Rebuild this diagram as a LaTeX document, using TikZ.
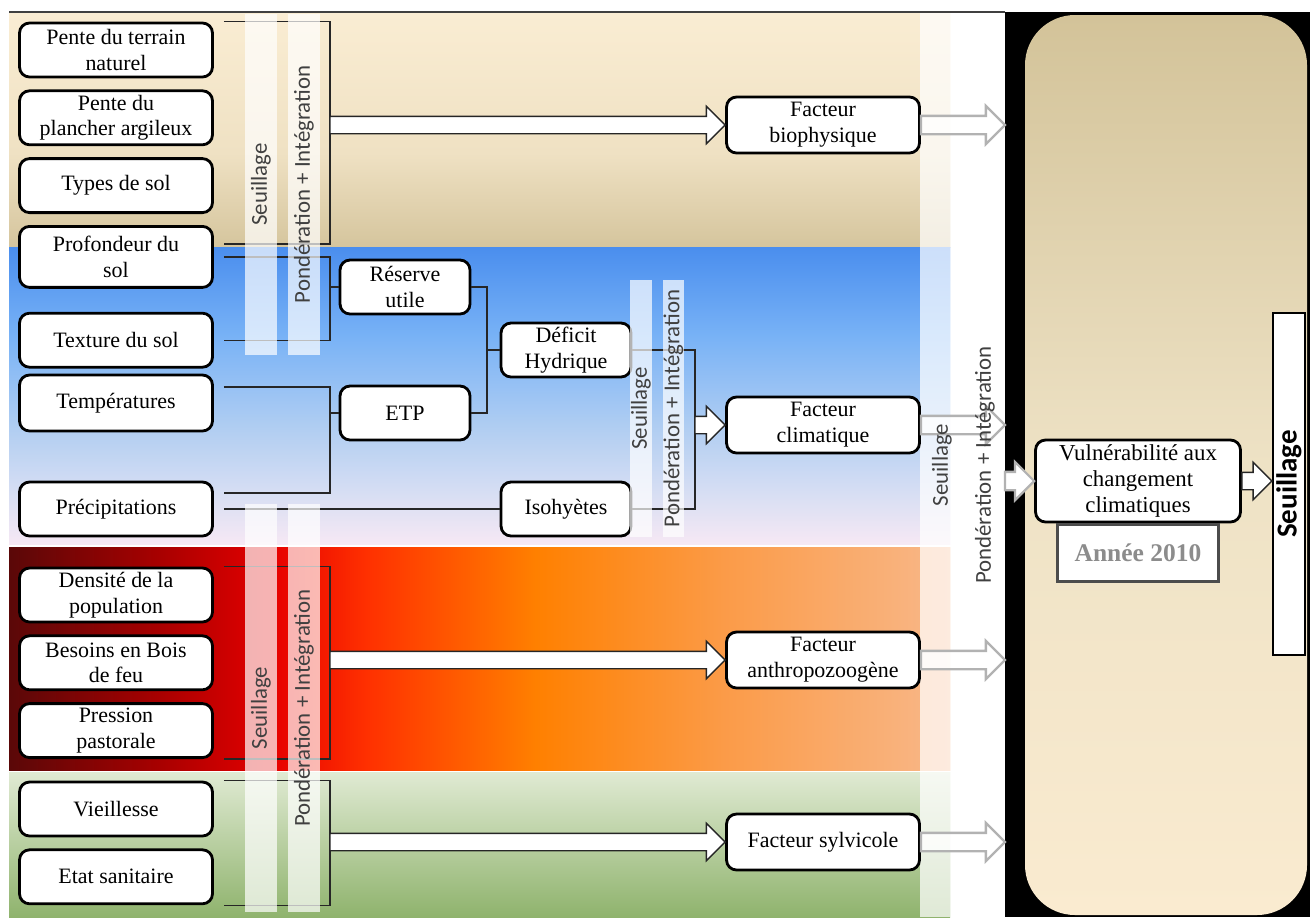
\documentclass[tikz,border=0pt]{standalone}
\usepackage{fontspec}
\setmainfont{Liberation Serif}
\newfontfamily\calib{Carlito}
\usetikzlibrary{positioning,calc,shapes.arrows}

\definecolor{beigeT}{HTML}{FAEDD3}
\definecolor{beigeM}{HTML}{EFE1C3}
\definecolor{beigeB}{HTML}{D5C59D}
\definecolor{blueT}{HTML}{4A8EEE}
\definecolor{blueM}{HTML}{78B2F6}
\definecolor{blueL}{HTML}{AFCDF2}
\definecolor{blueP}{HTML}{D9DFF3}
\definecolor{blueB}{HTML}{F6E8F4}
\definecolor{redA}{HTML}{5A0808}
\definecolor{redB}{HTML}{A80000}
\definecolor{redC}{HTML}{E60000}
\definecolor{redD}{HTML}{FF3000}
\definecolor{redE}{HTML}{FF8000}
\definecolor{redF}{HTML}{FB9B48}
\definecolor{redG}{HTML}{F8B88A}
\definecolor{greenT}{HTML}{E0EAD3}
\definecolor{greenB}{HTML}{8FB36D}
\definecolor{panelT}{HTML}{D3C399}
\definecolor{panelM}{HTML}{EEE2C5}
\definecolor{panelB}{HTML}{FAEBD0}

% bandes de fond (25bp..75bp = la zone remplie)
\pgfdeclareverticalshading{beigeband}{100bp}{color(0bp)=(beigeB); color(25bp)=(beigeB); color(45bp)=(beigeM); color(75bp)=(beigeT); color(100bp)=(beigeT)}
\pgfdeclareverticalshading{blueband}{100bp}{color(0bp)=(blueB); color(25bp)=(blueB); color(33bp)=(blueP); color(45bp)=(blueL); color(60bp)=(blueM); color(75bp)=(blueT); color(100bp)=(blueT)}
\pgfdeclarehorizontalshading{redband}{100bp}{color(0bp)=(redA); color(25bp)=(redA); color(33bp)=(redB); color(39bp)=(redC); color(44bp)=(redD); color(53bp)=(redE); color(63bp)=(redF); color(75bp)=(redG); color(100bp)=(redG)}
\pgfdeclareverticalshading{greenband}{100bp}{color(0bp)=(greenB); color(25bp)=(greenB); color(75bp)=(greenT); color(100bp)=(greenT)}
\pgfdeclareverticalshading{panel}{100bp}{color(0bp)=(panelB); color(25bp)=(panelB); color(50bp)=(panelM); color(75bp)=(panelT); color(100bp)=(panelT)}

% fleche pleine entre deux points (horizontale)
\newcommand\blockarrow[3][]{%
  \path let \p1=($(#3)-(#2)$), \n1={veclen(\x1,\y1)} in
    node[barrow,#1,minimum height=\n1,anchor=tail] at (#2) {};}

\begin{document}
\begin{tikzpicture}
    [x=0.02cm,y=-0.02cm,node distance=0.22cm,
    box/.style={draw,line width=1.6pt,rounded corners=0.2cm,fill=white,align=center,inner sep=0pt,font=\fontsize{12.5}{14.7}\selectfont},
    inbox/.style={box,minimum width=3.86cm,minimum height=1.08cm},
    midbox/.style={box,minimum width=2.6cm,minimum height=1.08cm},
    factbox/.style={box,minimum width=3.86cm,minimum height=1.12cm},
    link/.style={draw=black!85,line width=0.7pt},
    strip/.style={fill=white,fill opacity=0.7,text opacity=1,rotate=90,inner sep=0pt,minimum height=0.64cm,text=black!75,font=\calib\fontsize{13}{15}\selectfont},
    striptext/.style={rotate=90,inner sep=0pt,text=black!75,font=\calib\fontsize{13}{15}\selectfont},
    barrow/.style={single arrow,draw=black!85,line width=0.8pt,fill=white,text height=0.16cm,text depth=0.16cm,minimum width=0.72cm,single arrow head extend=0.2cm,single arrow head indent=0pt,inner sep=0pt,outer sep=0pt},
    grayarrow/.style={draw=black!30,line width=1.3pt,fill opacity=0.8}]
    \path[use as bounding box] (0,0) rectangle (1310,917);
    % fonds
    \shade[shading=beigeband] (9,12) rectangle (950,247);
    \shade[shading=blueband] (9,247) rectangle (950,544);
    \shade[shading=redband] (9,547) rectangle (950,770);
    \shade[shading=greenband] (9,772) rectangle (950,917);
    \fill[white,opacity=0.72] (920,12) rectangle (950,917);
    \fill[black] (1005,12) rectangle (1310,917);
    \shade[shading=panel,rounded corners=1cm] (1025,15) rectangle (1307,915);
    \draw[black!75,line width=0.8pt] (9,12) -- (1005,12);

    % colonne des donnees
    \node[inbox] (pente) at (116,50) {Pente du terrain\\naturel};
    \node[inbox] (plancher) [below=of pente] {Pente du\\plancher argileux};
    \node[inbox] (typesol) [below=of plancher] {Types de sol};
    \node[inbox,minimum height=1.22cm] (profsol) [below=of typesol] {Profondeur du\\sol};
    \node[inbox] (texsol) [below=0.46cm of profsol] {Texture du sol};
    \node[inbox,minimum height=1.12cm] (temp) at (116,403) {Températures};
    \node[inbox] (precip) at (116,509) {Précipitations};
    \node[inbox] (densite) at (116,595) {Densité de la\\population};
    \node[inbox] (bois) [below=of densite] {Besoins en Bois\\de feu};
    \node[inbox] (pression) [below=of bois] {Pression\\pastorale};
    \node[inbox] (vieil) at (116,809) {Vieillesse};
    \node[inbox] (etat) [below=of vieil] {Etat sanitaire};

    % indicateurs intermediaires
    \node[midbox] (ru) at (405,287) {Réserve\\utile};
    \node[midbox] (etp) at (405,413) {ETP};
    \node[midbox] (deficit) at (566,350) {Déficit\\Hydrique};
    \node[midbox] (iso) at (566,509) {Isohyètes};

    % facteurs
    \node[factbox] (fbio) at (823,125) {Facteur\\biophysique};
    \node[factbox] (fclim) at (823,425) {Facteur\\climatique};
    \node[factbox] (fanth) at (823,660) {Facteur\\anthropozoogène};
    \node[factbox] (fsylv) at (823,842) {Facteur sylvicole};

    % resultat
    \node[box,minimum width=4.1cm,minimum height=1.64cm,font=\fontsize{13}{15}\selectfont] (vuln) at (1138,481) {Vulnérabilité aux\\changement\\climatiques};
    \node[draw=black!70,line width=1.2pt,fill=white,minimum width=3.22cm,minimum height=1.14cm,text=black!45,font=\bfseries\fontsize{14.5}{16}\selectfont] (annee) [below=0cm of vuln] {Année 2010};
    \node[draw,line width=1.5pt,fill=white,minimum width=0.64cm,minimum height=6.84cm,inner sep=0pt,font=\calib\bfseries\fontsize{16.5}{18}\selectfont] (seuil) at (1289,484) {\rotatebox{90}{Seuillage}};

    % jonctions
    \coordinate (g1) at (330,125);
    \coordinate (g2) at (330,287);
    \coordinate (g3) at (330,413);
    \coordinate (g4) at (487,350);
    \coordinate (g5) at (695,425);
    \coordinate (g6) at (330,660);
    \coordinate (g7) at (330,842);
    \coordinate (rim) at (1005,0);
    \coordinate (e1) at (fbio.east -| rim);
    \coordinate (e2) at (fclim.east -| rim);
    \coordinate (e3) at (fanth.east -| rim);
    \coordinate (e4) at (fsylv.east -| rim);
    \coordinate (e5) at (vuln.west -| rim);

    % accolades
    \draw[link] ([xshift=0.2cm]pente.north east) -| (g1) |- ([xshift=0.2cm,yshift=-0.38cm]profsol.north east);
    \draw[link] ([xshift=0.2cm]profsol.east) -| (g2) |- ([xshift=0.2cm]texsol.east);
    \draw[link] (g2) -- (ru.west);
    \draw[link] ([xshift=0.2cm,yshift=0.32cm]temp.east) -| (g3) |- ([xshift=0.2cm,yshift=0.32cm]precip.east);
    \draw[link] (g3) -- (etp.west);
    \draw[link] ([xshift=0.2cm]precip.east) -- (iso.west);
    \draw[link] (ru.east) -| (g4) |- (etp.east);
    \draw[link] (g4) -- (deficit.west);
    \draw[link] (deficit.east) -| (g5) |- (iso.east);
    \draw[link] ([xshift=0.2cm]densite.north east) -| (g6) |- ([xshift=0.2cm]pression.south east);
    \draw[link] ([xshift=0.2cm]vieil.north east) -| (g7) |- ([xshift=0.2cm]etat.south east);

    % bandes Seuillage / Ponderation
    \node[strip,minimum width=6.82cm] (s1) at (261,184.5) {Seuillage};
    \node[strip,minimum width=6.82cm] (i1) at (304,184.5) {Pondération + Intégration};
    \node[strip,minimum width=8.16cm] (s2) at (261,708) {Seuillage};
    \node[strip,minimum width=8.16cm] (i2) at (304,708) {Pondération + Intégration};
    \node[strip,minimum width=5.14cm,minimum height=0.44cm] (s3) at (641,408.5) {Seuillage};
    \node[strip,minimum width=5.14cm,minimum height=0.42cm] (i3) at (673.5,408.5) {Pondération + Intégration};

    % fleches
    \blockarrow{g1}{fbio.west}
    \blockarrow{g5}{fclim.west}
    \blockarrow{g6}{fanth.west}
    \blockarrow{g7}{fsylv.west}
    \blockarrow[grayarrow]{fbio.east}{e1}
    \blockarrow[grayarrow]{fclim.east}{e2}
    \blockarrow[grayarrow]{fanth.east}{e3}
    \blockarrow[grayarrow]{fsylv.east}{e4}
    \blockarrow[grayarrow,fill opacity=1]{e5}{vuln.west}
    \blockarrow{vuln.east}{seuil.west}

    % textes de la colonne droite, au-dessus des fleches
    \node[striptext] (s4) at (942,465) {Seuillage};
    \node[striptext] (i4) at (985,465) {Pondération + Intégration};
\end{tikzpicture}
\end{document}
